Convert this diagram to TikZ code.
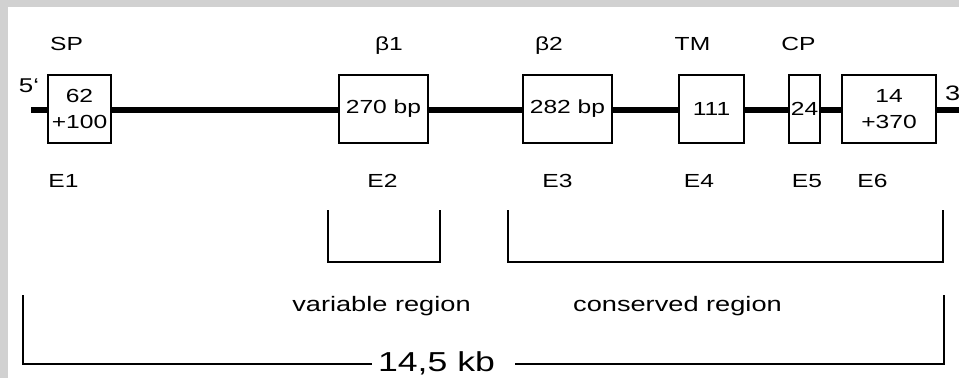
\documentclass[tikz,border=0pt]{standalone}
\usepackage{fontspec}
\setmainfont{Liberation Sans}
\usepackage{graphicx}
\newcommand{\wx}[1]{\scalebox{1.3}[1]{#1}}
\begin{document}
\begin{tikzpicture}[x=1bp,y=-1bp,
  lbl/.style={font=\fontsize{19}{22}\selectfont, inner sep=0pt, anchor=base},
  rlbl/.style={font=\fontsize{21}{24}\selectfont, inner sep=0pt, anchor=base},
  exon/.style={draw, line width=1.4bp, fill=white, minimum height=68bp, inner sep=0pt,
               font=\fontsize{19}{26}\selectfont, align=center},
  dna/.style={line width=6bp},
  brk/.style={line width=2bp}
]
\useasboundingbox (0,0) rectangle (959,378);
\fill[black!18] (0,0) rectangle (959,378);
\fill[white] (8,7) rectangle (959,378);
\clip (0,0) rectangle (959,378);

% DNA strand
\coordinate (L5) at (31,110);
\coordinate (R3) at (965,110);
\draw[dna] (L5) -- (R3);
\node[lbl, font=\fontsize{20}{22}\selectfont] (five) at (29,92) {\wx{5‘}};
\node[lbl, anchor=base west, font=\fontsize{21}{22}\selectfont] (three) at (945,100) {\wx{3}};

% exons
\node[exon, minimum width=63bp] (e1) at (79.5,109) {\wx{62}\\\wx{+100}};
\node[exon, minimum width=89bp] (e2) at (383.5,109) {\wx{270 bp}};
\node[exon, minimum width=89bp] (e3) at (567.5,109) {\wx{282 bp}};
\node[exon, minimum width=65bp] (e4) at (711.5,109) {\wx{111}};
\node[exon, minimum width=31bp] (e5) at (804.5,109) {\wx{24}};
\node[exon, minimum width=94bp] (e6) at (889,109) {\wx{14}\\\wx{+370}};

% domain labels
\node[lbl] (sp) at (66.5,50) {\wx{SP}};
\node[lbl] (b1) at (389,50) {\wx{β1}};
\node[lbl] (b2) at (549,50) {\wx{β2}};
\node[lbl] (tm) at (692.5,50) {\wx{TM}};
\node[lbl] (cp) at (798.5,50) {\wx{CP}};

% exon names
\node[lbl] (n1) at (63.5,187) {\wx{E1}};
\node[lbl] (n2) at (382.5,187) {\wx{E2}};
\node[lbl] (n3) at (557.5,187) {\wx{E3}};
\node[lbl] (n4) at (699,187) {\wx{E4}};
\node[lbl] (n5) at (807,187) {\wx{E5}};
\node[lbl] (n6) at (872.5,187) {\wx{E6}};

% variable region bracket
\coordinate (va) at (328,210);
\coordinate (vb) at (328,262);
\coordinate (vc) at (440,262);
\coordinate (vd) at (440,210);
\draw[brk] (va) -- (vb) -- (vc) -- (vd);
\node[rlbl] (vr) at (381.5,311) {\wx{variable region}};

% conserved region bracket
\coordinate (ca) at (508,210);
\coordinate (cb) at (508,262);
\coordinate (cc) at (943,262);
\coordinate (cd) at (943,210);
\draw[brk] (ca) -- (cb) -- (cc) -- (cd);
\node[rlbl] (cr) at (677.5,311) {\wx{conserved region}};

% total length bracket
\node[lbl, font=\fontsize{27.5}{30}\selectfont] (kb) at (436.5,371) {\wx{14,5 kb}};
\coordinate (ka) at (23,295);
\coordinate (kl) at (23,364);
\coordinate (kr) at (944,364);
\coordinate (kd) at (944,295);
\draw[brk] (ka) -- (kl) -- ([xshift=-6bp]kb.west |- kl);
\draw[brk] ([xshift=20bp]kb.east |- kr) -- (kr) -- (kd);
\end{tikzpicture}
\end{document}
